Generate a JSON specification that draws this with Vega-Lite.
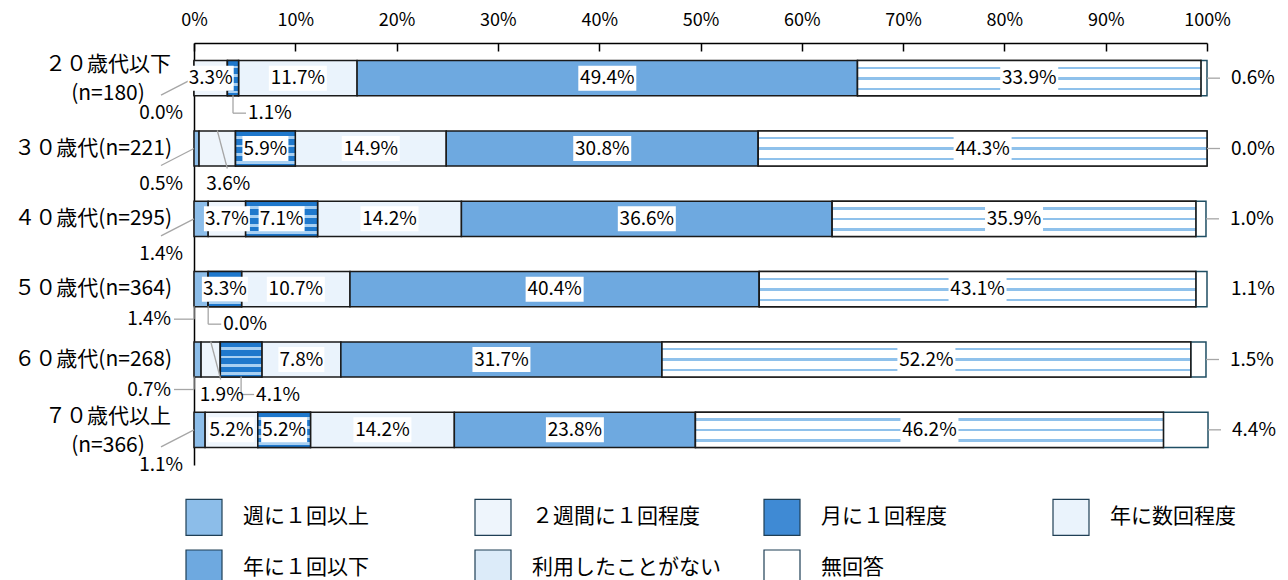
{
  "$schema": "https://vega.github.io/schema/vega-lite/v6.json",
  "width": 1013,
  "height": 422,
  "autosize": {"type": "none"},
  "padding": {"left": 194, "top": 43, "right": 81, "bottom": 115},
  "background": "white",
  "config": {"view": {"stroke": null}, "font": "Noto Sans CJK JP"},
  "data": {"values": [
    {"age": "２０歳代以下\n(n=180)", "category": "週に１回以上", "value": 0.0},
    {"age": "２０歳代以下\n(n=180)", "category": "２週間に１回程度", "value": 3.3},
    {"age": "２０歳代以下\n(n=180)", "category": "月に１回程度", "value": 1.1},
    {"age": "２０歳代以下\n(n=180)", "category": "年に数回程度", "value": 11.7},
    {"age": "２０歳代以下\n(n=180)", "category": "年に１回以下", "value": 49.4},
    {"age": "２０歳代以下\n(n=180)", "category": "利用したことがない", "value": 33.9},
    {"age": "２０歳代以下\n(n=180)", "category": "無回答", "value": 0.6},
    {"age": "３０歳代(n=221)", "category": "週に１回以上", "value": 0.5},
    {"age": "３０歳代(n=221)", "category": "２週間に１回程度", "value": 3.6},
    {"age": "３０歳代(n=221)", "category": "月に１回程度", "value": 5.9},
    {"age": "３０歳代(n=221)", "category": "年に数回程度", "value": 14.9},
    {"age": "３０歳代(n=221)", "category": "年に１回以下", "value": 30.8},
    {"age": "３０歳代(n=221)", "category": "利用したことがない", "value": 44.3},
    {"age": "３０歳代(n=221)", "category": "無回答", "value": 0.0},
    {"age": "４０歳代(n=295)", "category": "週に１回以上", "value": 1.4},
    {"age": "４０歳代(n=295)", "category": "２週間に１回程度", "value": 3.7},
    {"age": "４０歳代(n=295)", "category": "月に１回程度", "value": 7.1},
    {"age": "４０歳代(n=295)", "category": "年に数回程度", "value": 14.2},
    {"age": "４０歳代(n=295)", "category": "年に１回以下", "value": 36.6},
    {"age": "４０歳代(n=295)", "category": "利用したことがない", "value": 35.9},
    {"age": "４０歳代(n=295)", "category": "無回答", "value": 1.0},
    {"age": "５０歳代(n=364)", "category": "週に１回以上", "value": 1.4},
    {"age": "５０歳代(n=364)", "category": "２週間に１回程度", "value": 0.0},
    {"age": "５０歳代(n=364)", "category": "月に１回程度", "value": 3.3},
    {"age": "５０歳代(n=364)", "category": "年に数回程度", "value": 10.7},
    {"age": "５０歳代(n=364)", "category": "年に１回以下", "value": 40.4},
    {"age": "５０歳代(n=364)", "category": "利用したことがない", "value": 43.1},
    {"age": "５０歳代(n=364)", "category": "無回答", "value": 1.1},
    {"age": "６０歳代(n=268)", "category": "週に１回以上", "value": 0.7},
    {"age": "６０歳代(n=268)", "category": "２週間に１回程度", "value": 1.9},
    {"age": "６０歳代(n=268)", "category": "月に１回程度", "value": 4.1},
    {"age": "６０歳代(n=268)", "category": "年に数回程度", "value": 7.8},
    {"age": "６０歳代(n=268)", "category": "年に１回以下", "value": 31.7},
    {"age": "６０歳代(n=268)", "category": "利用したことがない", "value": 52.2},
    {"age": "６０歳代(n=268)", "category": "無回答", "value": 1.5},
    {"age": "７０歳代以上\n(n=366)", "category": "週に１回以上", "value": 1.1},
    {"age": "７０歳代以上\n(n=366)", "category": "２週間に１回程度", "value": 5.2},
    {"age": "７０歳代以上\n(n=366)", "category": "月に１回程度", "value": 5.2},
    {"age": "７０歳代以上\n(n=366)", "category": "年に数回程度", "value": 14.2},
    {"age": "７０歳代以上\n(n=366)", "category": "年に１回以下", "value": 23.8},
    {"age": "７０歳代以上\n(n=366)", "category": "利用したことがない", "value": 46.2},
    {"age": "７０歳代以上\n(n=366)", "category": "無回答", "value": 4.4}
  ]},
  "transform": [
    {"calculate": "indexof(['週に１回以上','２週間に１回程度','月に１回程度','年に数回程度','年に１回以下','利用したことがない','無回答'], datum.category)", "as": "ord"},
    {"stack": "value", "groupby": ["age"], "sort": [{"field": "ord", "order": "ascending"}], "as": ["v0", "v1"]},
    {"calculate": "(datum.v0 + datum.v1) / 2", "as": "mid"},
    {"calculate": "format(datum.value, '.1f') + '%'", "as": "label"}
  ],
  "encoding": {
    "y": {
      "field": "age", "type": "nominal", "sort": null, "title": null,
      "scale": {"paddingInner": 0.5, "paddingOuter": 0.25},
      "axis": {"labels": false, "ticks": false, "domain": true, "domainColor": "#000000", "domainWidth": 1.5, "title": null, "grid": false}
    }
  },
  "layer": [
    {
      "mark": {"type": "bar", "strokeWidth": 1.5},
      "encoding": {
        "x": {
          "field": "v0", "type": "quantitative", "title": null,
          "scale": {"domain": [0, 100], "nice": false, "zero": false},
          "axis": {
            "orient": "top", "values": [0, 10, 20, 30, 40, 50, 60, 70, 80, 90, 100],
            "labelExpr": "datum.value + '%'", "grid": false, "title": null,
            "domainColor": "#000000", "domainWidth": 1.5,
            "tickColor": "#000000", "tickWidth": 1.5, "tickSize": -8,
            "labelFontSize": 18, "labelPadding": 22, "labelColor": "#000000",
            "labelFont": "Noto Sans CJK JP", "labelFlush": false
          }
        },
        "x2": {"field": "v1"},
        "color": {
          "field": "category", "type": "nominal",
          "scale": {
            "domain": ["週に１回以上", "２週間に１回程度", "月に１回程度", "年に数回程度", "年に１回以下", "利用したことがない", "無回答"],
            "range": ["#8cbde9", "#eef5fc", "#3f8ad4", "#eaf3fc", "#6ea9e0", "#dcebf9", "#ffffff"]
          },
          "legend": {
            "orient": "none", "legendX": -9, "legendY": 455, "columns": 4, "title": null,
            "symbolType": "square", "symbolSize": 1296, "symbolStrokeColor": "#1f3f55",
            "symbolStrokeWidth": 1.2, "symbolOpacity": 1,
            "labelFontSize": 21, "labelFont": "Noto Sans CJK JP", "labelColor": "#000000",
            "labelOffset": 20, "rowPadding": 9, "columnPadding": 40, "gridAlign": "all",
            "labelLimit": 400, "padding": 0, "direction": "horizontal"
          }
        },
        "stroke": {"condition": {"test": "datum.category === '無回答'", "value": "#1f4e63"}, "value": "#1a1a1a"}
      }
    },
    {
      "transform": [{"filter": "datum.category === '月に１回程度' && datum.value > 0"}],
      "mark": {
        "type": "bar", "strokeWidth": 1.5, "stroke": "#1a1a1a",
        "color": {"gradient": "linear", "x1": 0, "y1": 0, "x2": 0, "y2": 1, "stops": [
          {"offset": 0, "color": "#1f78cc"}, {"offset": 0.14, "color": "#1f78cc"},
          {"offset": 0.14, "color": "#a9d0f2"}, {"offset": 0.22, "color": "#a9d0f2"},
          {"offset": 0.22, "color": "#1f78cc"}, {"offset": 0.39, "color": "#1f78cc"},
          {"offset": 0.39, "color": "#a9d0f2"}, {"offset": 0.47, "color": "#a9d0f2"},
          {"offset": 0.47, "color": "#1f78cc"}, {"offset": 0.64, "color": "#1f78cc"},
          {"offset": 0.64, "color": "#a9d0f2"}, {"offset": 0.72, "color": "#a9d0f2"},
          {"offset": 0.72, "color": "#1f78cc"}, {"offset": 0.86, "color": "#1f78cc"},
          {"offset": 0.86, "color": "#a9d0f2"}, {"offset": 0.93, "color": "#a9d0f2"},
          {"offset": 0.93, "color": "#1f78cc"}, {"offset": 1, "color": "#1f78cc"}
        ]}
      },
      "encoding": {"x": {"field": "v0", "type": "quantitative", "title": null}, "x2": {"field": "v1"}}
    },
    {
      "transform": [{"filter": "datum.category === '利用したことがない'"}],
      "mark": {
        "type": "bar", "strokeWidth": 1.5, "stroke": "#1a1a1a",
        "color": {"gradient": "linear", "x1": 0, "y1": 0, "x2": 0, "y2": 1, "stops": [
          {"offset": 0, "color": "#ffffff"}, {"offset": 0.17, "color": "#ffffff"},
          {"offset": 0.17, "color": "#8fc1eb"}, {"offset": 0.24, "color": "#8fc1eb"},
          {"offset": 0.24, "color": "#ffffff"}, {"offset": 0.47, "color": "#ffffff"},
          {"offset": 0.47, "color": "#8fc1eb"}, {"offset": 0.54, "color": "#8fc1eb"},
          {"offset": 0.54, "color": "#ffffff"}, {"offset": 0.77, "color": "#ffffff"},
          {"offset": 0.77, "color": "#8fc1eb"}, {"offset": 0.84, "color": "#8fc1eb"},
          {"offset": 0.84, "color": "#ffffff"}, {"offset": 1, "color": "#ffffff"}
        ]}
      },
      "encoding": {"x": {"field": "v0", "type": "quantitative", "title": null}, "x2": {"field": "v1"}}
    },
    {
      "transform": [{"filter": "datum.category === '週に１回以上' && indexof(datum.age, '５０') !== 0 && indexof(datum.age, '６０') !== 0"}],
      "mark": {"type": "rule", "color": "#a6a6a6", "strokeWidth": 1.3, "x2Offset": -33, "y2Offset": 17},
      "encoding": {"x": {"field": "v0", "type": "quantitative", "title": null}, "x2": {"field": "v0"}, "y2": {"field": "age"}}
    },
    {
      "transform": [{"filter": "datum.category === '週に１回以上' && (indexof(datum.age, '５０') === 0 || indexof(datum.age, '６０') === 0)"}],
      "mark": {"type": "rule", "color": "#a6a6a6", "strokeWidth": 1.3, "yOffset": 17, "y2Offset": 30},
      "encoding": {"x": {"field": "v0", "type": "quantitative", "title": null}, "x2": {"field": "v0"}, "y2": {"field": "age"}}
    },
    {
      "transform": [{"filter": "datum.category === '週に１回以上' && (indexof(datum.age, '５０') === 0 || indexof(datum.age, '６０') === 0)"}],
      "mark": {"type": "rule", "color": "#a6a6a6", "strokeWidth": 1.3, "x2Offset": -20, "yOffset": 30, "y2Offset": 30},
      "encoding": {"x": {"field": "v0", "type": "quantitative", "title": null}, "x2": {"field": "v0"}, "y2": {"field": "age"}}
    },
    {
      "transform": [{"filter": "(indexof(datum.age, '２０') === 0 && datum.category === '月に１回程度') || (indexof(datum.age, '５０') === 0 && datum.category === '２週間に１回程度') || (indexof(datum.age, '６０') === 0 && datum.category === '月に１回程度')"}],
      "mark": {"type": "rule", "color": "#a6a6a6", "strokeWidth": 1.3, "yOffset": 17, "y2Offset": 35},
      "encoding": {"x": {"field": "mid", "type": "quantitative", "title": null}, "x2": {"field": "mid"}, "y2": {"field": "age"}}
    },
    {
      "transform": [{"filter": "(indexof(datum.age, '２０') === 0 && datum.category === '月に１回程度') || (indexof(datum.age, '５０') === 0 && datum.category === '２週間に１回程度') || (indexof(datum.age, '６０') === 0 && datum.category === '月に１回程度')"}],
      "mark": {"type": "rule", "color": "#a6a6a6", "strokeWidth": 1.3, "x2Offset": 13, "yOffset": 35, "y2Offset": 35},
      "encoding": {"x": {"field": "mid", "type": "quantitative", "title": null}, "x2": {"field": "mid"}, "y2": {"field": "age"}}
    },
    {
      "transform": [{"filter": "datum.category === '２週間に１回程度' && (indexof(datum.age, '３０') === 0 || indexof(datum.age, '６０') === 0)"}],
      "mark": {"type": "rule", "color": "#a6a6a6", "strokeWidth": 1.3, "x2Offset": 10, "yOffset": -18, "y2Offset": 20},
      "encoding": {"x": {"field": "mid", "type": "quantitative", "title": null}, "x2": {"field": "mid"}, "y2": {"field": "age"}}
    },
    {
      "transform": [{"filter": "datum.category === '無回答' && indexof(datum.age, '５０') !== 0"}],
      "mark": {"type": "rule", "color": "#a6a6a6", "strokeWidth": 1.3, "x2Offset": 13},
      "encoding": {"x": {"field": "v1", "type": "quantitative", "title": null}, "x2": {"field": "v1"}, "y2": {"field": "age"}}
    },
    {
      "transform": [{"filter": "datum.value >= 10 && datum.category !== '無回答'"}],
      "mark": {"type": "point", "shape": "M-29,-12.5H29V12.5H-29Z", "size": 4, "filled": true, "fill": "#ffffff", "strokeWidth": 0, "opacity": 1},
      "encoding": {"x": {"field": "mid", "type": "quantitative", "title": null}}
    },
    {
      "transform": [{"filter": "datum.value >= 3.3 && datum.value < 10 && datum.category !== '無回答' && !(indexof(datum.age, '３０') === 0 && datum.category === '２週間に１回程度') && !(indexof(datum.age, '６０') === 0 && datum.category === '月に１回程度')"}],
      "mark": {"type": "point", "shape": "M-23,-12.5H23V12.5H-23Z", "size": 4, "filled": true, "fill": "#ffffff", "strokeWidth": 0, "opacity": 1},
      "encoding": {"x": {"field": "mid", "type": "quantitative", "title": null}}
    },
    {
      "transform": [{"filter": "datum.value >= 3.3 && datum.category !== '無回答' && !(indexof(datum.age, '３０') === 0 && datum.category === '２週間に１回程度') && !(indexof(datum.age, '６０') === 0 && datum.category === '月に１回程度')"}],
      "mark": {"type": "text", "align": "center", "baseline": "middle", "fontSize": 19, "color": "#000000", "font": "Noto Sans CJK JP"},
      "encoding": {"x": {"field": "mid", "type": "quantitative", "title": null}, "text": {"field": "label"}}
    },
    {
      "transform": [{"filter": "datum.category === '週に１回以上' && indexof(datum.age, '５０') !== 0 && indexof(datum.age, '６０') !== 0"}],
      "mark": {"type": "text", "align": "right", "baseline": "middle", "dx": -11, "dy": 35, "fontSize": 19, "color": "#000000", "font": "Noto Sans CJK JP"},
      "encoding": {"x": {"field": "v0", "type": "quantitative", "title": null}, "text": {"field": "label"}}
    },
    {
      "transform": [{"filter": "datum.category === '週に１回以上' && (indexof(datum.age, '５０') === 0 || indexof(datum.age, '６０') === 0)"}],
      "mark": {"type": "text", "align": "right", "baseline": "middle", "dx": -23, "dy": 30, "fontSize": 19, "color": "#000000", "font": "Noto Sans CJK JP"},
      "encoding": {"x": {"field": "v0", "type": "quantitative", "title": null}, "text": {"field": "label"}}
    },
    {
      "transform": [{"filter": "(indexof(datum.age, '２０') === 0 && datum.category === '月に１回程度') || (indexof(datum.age, '５０') === 0 && datum.category === '２週間に１回程度') || (indexof(datum.age, '６０') === 0 && datum.category === '月に１回程度')"}],
      "mark": {"type": "text", "align": "left", "baseline": "middle", "dx": 15, "dy": 35, "fontSize": 19, "color": "#000000", "font": "Noto Sans CJK JP"},
      "encoding": {"x": {"field": "mid", "type": "quantitative", "title": null}, "text": {"field": "label"}}
    },
    {
      "transform": [{"filter": "datum.category === '２週間に１回程度' && (indexof(datum.age, '３０') === 0 || indexof(datum.age, '６０') === 0)"}],
      "mark": {"type": "text", "align": "center", "baseline": "middle", "dx": 11, "dy": 35, "fontSize": 19, "color": "#000000", "font": "Noto Sans CJK JP"},
      "encoding": {"x": {"field": "mid", "type": "quantitative", "title": null}, "text": {"field": "label"}}
    },
    {
      "transform": [{"filter": "datum.category === '無回答'"}],
      "mark": {"type": "text", "align": "left", "baseline": "middle", "dx": 24, "fontSize": 19, "color": "#000000", "font": "Noto Sans CJK JP"},
      "encoding": {"x": {"field": "v1", "type": "quantitative", "title": null}, "text": {"field": "label"}}
    },
    {
      "transform": [{"filter": "datum.category === '無回答' && indexof(datum.age, '\\n') < 0"}],
      "mark": {"type": "text", "align": "right", "baseline": "middle", "dx": -22, "fontSize": 21, "color": "#000000", "font": "Noto Sans CJK JP"},
      "encoding": {"x": {"datum": 0, "type": "quantitative", "title": null}, "text": {"field": "age"}}
    },
    {
      "transform": [{"filter": "datum.category === '無回答' && indexof(datum.age, '\\n') >= 0"}],
      "mark": {"type": "text", "align": "center", "baseline": "middle", "dx": -86, "dy": -13, "fontSize": 21, "lineBreak": "\n", "lineHeight": 29, "color": "#000000", "font": "Noto Sans CJK JP"},
      "encoding": {"x": {"datum": 0, "type": "quantitative", "title": null}, "text": {"field": "age"}}
    }
  ]
}
